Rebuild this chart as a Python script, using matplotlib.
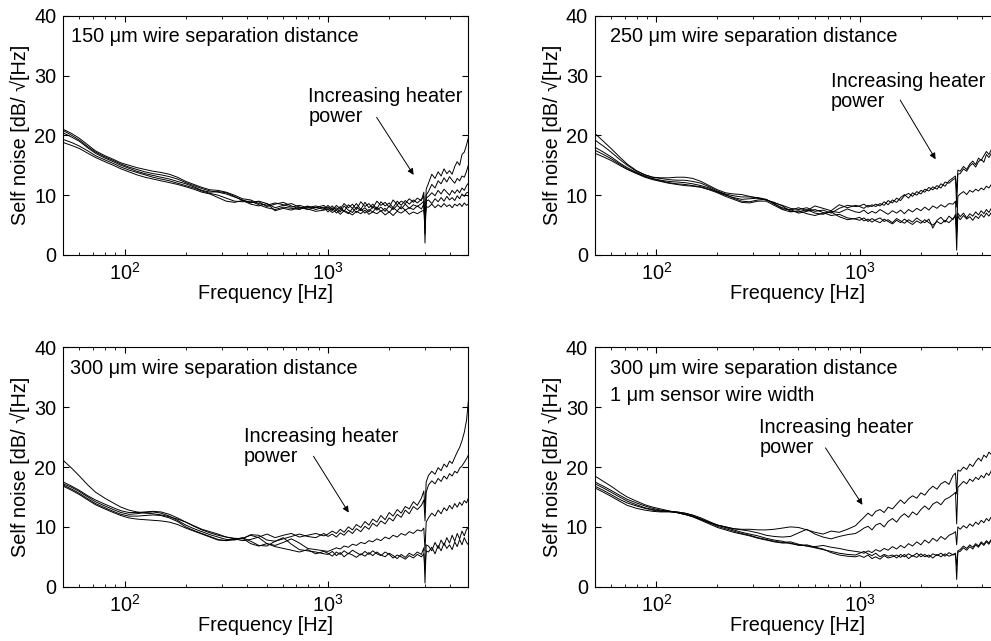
"""Self-noise spectra for four wire-separation configurations."""

import matplotlib
matplotlib.use("Agg")
import matplotlib.pyplot as plt


FREQ = [50, 55, 60, 66, 72, 80, 88, 96, 105, 115, 126, 138, 151, 166, 182, 200, 219, 240, 263, 288, 316, 347, 380, 417,
        457, 501, 550, 603, 661, 724, 794, 871, 955,
        1000, 1050, 1100, 1150, 1200, 1260, 1320, 1380, 1450, 1520, 1590, 1660, 1740, 1820, 1910, 2000, 2090, 2190, 2290, 2400, 2510, 2630, 2750, 2880,
        2960, 3000, 3040,
        3120, 3240, 3360, 3480, 3600, 3720, 3840, 3960, 4080, 4200, 4320, 4440, 4560, 4680, 4800, 4900]

# 150 um separation
noise_150 = [
    [21.0, 20.3, 19.5, 18.4, 17.4, 16.6, 16.0, 15.4, 15.0, 14.6, 14.3, 14.0, 13.8, 13.5, 13.0, 12.3, 11.8, 11.3, 10.9, 10.8, 10.5, 10.0, 9.4, 9.2,
     8.6, 8.3, 8.7, 8.4, 8.0, 8.3, 7.9, 8.2, 7.8,
     8.0, 7.4, 8.3, 7.7, 8.6, 7.9, 8.5, 7.6, 8.9, 8.1, 8.6, 7.8, 9.0, 8.3, 8.8, 8.0, 9.2, 8.4, 9.0, 8.6, 9.4, 8.8, 9.5, 9.1,
     10.5, 4.5, 11.0,
     12.0, 13.5, 12.8, 13.9, 13.2, 14.4, 13.6, 14.1, 13.5, 14.8, 15.6, 15.0, 16.8, 17.2, 18.4, 19.6],
    [20.8, 20.0, 19.2, 18.1, 17.2, 16.4, 15.8, 15.2, 14.7, 14.3, 13.9, 13.6, 13.4, 13.1, 12.7, 12.1, 11.6, 11.1, 10.7, 10.5, 10.2, 9.7, 9.2, 8.8,
     8.9, 8.1, 8.5, 8.8, 8.2, 7.7, 8.1, 7.9, 8.3,
     7.6, 8.2, 7.5, 8.1, 7.3, 8.4, 7.8, 8.6, 7.6, 8.8, 7.9, 8.5, 7.7, 8.9, 8.2, 8.7, 7.9, 9.0, 8.3, 9.1, 8.5, 9.2, 8.7, 9.3,
     9.8, 2.0, 10.0,
     10.6, 11.8, 11.2, 12.4, 11.9, 12.9, 12.2, 13.1, 12.5, 12.0, 12.8, 12.4, 13.2, 13.0, 14.0, 15.0],
    [20.4, 19.7, 19.0, 17.9, 17.0, 16.2, 15.6, 15.0, 14.5, 14.0, 13.6, 13.3, 13.0, 12.7, 12.3, 11.9, 11.4, 10.8, 10.5, 10.6, 10.4, 9.8, 9.1, 8.5,
     8.2, 8.6, 7.9, 8.3, 8.6, 8.0, 7.6, 8.0, 7.6,
     8.3, 7.6, 7.9, 7.2, 8.2, 7.5, 7.1, 8.0, 7.4, 7.9, 7.2, 8.1, 7.5, 8.0, 7.3, 8.2, 7.6, 8.3, 7.7, 8.5, 7.8, 8.4, 8.1, 8.6,
     9.0, 5.0, 9.5,
     9.8, 10.4, 9.9, 10.8, 10.2, 11.0, 10.5, 10.0, 10.8, 10.3, 10.9, 10.4, 11.2, 10.8, 11.6, 12.0],
    [19.3, 18.8, 18.2, 17.4, 16.6, 15.9, 15.3, 14.7, 14.2, 13.8, 13.4, 13.0, 12.7, 12.4, 12.0, 11.6, 11.2, 10.7, 10.3, 10.0, 9.5, 9.0, 8.9, 9.0,
     8.4, 7.9, 7.6, 8.0, 7.8, 7.6, 8.2, 7.6, 8.0,
     7.2, 7.9, 7.0, 7.6, 7.3, 6.9, 7.8, 7.1, 7.7, 7.0, 7.6, 7.2, 8.0, 7.3, 7.8, 7.1, 7.9, 7.4, 8.1, 7.5, 7.9, 7.6, 8.2, 7.7,
     8.5, 3.5, 9.0,
     9.2, 8.6, 9.4, 8.9, 9.6, 9.0, 9.8, 9.2, 9.6, 9.1, 9.9, 9.4, 10.2, 9.8, 10.4, 10.5],
    [18.8, 18.3, 17.8, 17.0, 16.3, 15.6, 15.0, 14.4, 13.9, 13.4, 13.0, 12.7, 12.4, 12.1, 11.8, 11.4, 11.0, 10.5, 10.2, 9.6, 9.0, 8.8, 9.1, 8.7,
     9.0, 8.6, 7.4, 7.8, 7.5, 8.0, 7.7, 7.3, 7.5,
     7.7, 7.1, 7.5, 6.8, 7.4, 7.1, 6.7, 7.3, 6.9, 7.5, 6.8, 7.2, 6.9, 7.4, 6.7, 7.2, 6.6, 7.3, 7.0, 7.5, 6.8, 7.2, 6.9, 7.3,
     7.5, 6.0, 8.0,
     8.0, 8.5, 7.9, 8.4, 8.0, 8.6, 8.1, 8.4, 7.9, 8.5, 8.2, 8.6, 8.1, 8.7, 8.3, 8.5],
]

# 250 um separation
noise_250 = [
    [20.3, 19.0, 17.8, 16.4, 15.2, 14.1, 13.4, 13.0, 12.9, 12.9, 13.0, 13.0, 12.8, 12.3, 11.6, 10.9, 10.4, 10.2, 10.1, 9.8, 9.5, 9.2, 8.7, 8.3,
     7.8, 7.6, 7.9, 7.3, 7.5, 7.0, 7.8, 8.3, 8.1,
     8.2, 8.5, 8.0, 8.4, 8.1, 8.6, 8.3, 9.1, 8.7, 9.5, 9.1, 9.9, 10.3, 9.8, 10.6, 10.2, 11.0, 10.7, 11.4, 11.0, 11.9, 11.5, 12.4, 12.9,
     13.2, 10.5, 14.2,
     14.0, 14.8, 14.3, 15.2, 15.7, 15.1, 16.2, 15.8, 16.6, 17.3, 16.8, 17.6, 17.1, 17.9, 17.4, 18.0],
    [19.2, 18.2, 17.2, 16.0, 15.0, 14.0, 13.4, 13.0, 12.8, 12.6, 12.5, 12.5, 12.3, 12.0, 11.4, 10.7, 10.2, 9.9, 9.7, 9.7, 9.6, 9.3, 8.5, 7.9,
     7.5, 7.9, 7.4, 8.2, 7.8, 7.4, 8.4, 7.9, 8.3,
     8.1, 7.8, 8.3, 8.1, 8.5, 8.2, 8.9, 8.4, 9.2, 8.8, 9.6, 10.1, 9.5, 10.4, 10.0, 10.8, 10.5, 11.3, 10.9, 11.6, 11.2, 12.2, 12.0, 12.6,
     12.8, 8.0, 13.5,
     13.6, 14.4, 14.0, 14.9, 15.3, 14.7, 15.6, 16.0, 15.5, 16.8, 16.3, 17.0, 16.6, 17.4, 17.0, 17.5],
    [18.0, 17.2, 16.4, 15.4, 14.6, 13.8, 13.2, 12.8, 12.5, 12.3, 12.2, 12.1, 11.9, 11.6, 11.2, 10.5, 10.0, 9.6, 9.3, 9.4, 9.5, 9.2, 8.8, 8.2,
     7.3, 7.2, 7.6, 7.0, 6.8, 7.3, 7.1, 7.7, 7.2,
     7.1, 7.5, 6.9, 7.3, 7.0, 7.6, 7.2, 6.8, 7.4, 7.0, 7.5, 6.9, 7.6, 7.2, 7.8, 7.4, 8.0, 7.5, 8.2, 7.8, 8.4, 8.0, 8.6, 8.5,
     9.0, 3.5, 9.8,
     10.2, 10.6, 10.1, 10.8, 10.5, 11.0, 10.7, 11.2, 10.9, 11.5, 11.2, 11.8, 11.4, 12.0, 11.7, 12.1],
    [17.5, 16.8, 16.1, 15.2, 14.4, 13.7, 13.1, 12.7, 12.4, 12.1, 11.9, 11.8, 11.6, 11.4, 11.0, 10.6, 10.1, 9.5, 9.0, 8.9, 9.2, 9.3, 8.6, 7.7,
     7.6, 7.0, 7.3, 7.6, 7.1, 6.6, 6.8, 6.2, 6.0,
     5.8, 6.2, 5.6, 6.1, 5.7, 5.4, 6.0, 5.6, 5.2, 5.8, 5.4, 6.0, 5.5, 5.1, 5.7, 5.3, 5.9, 5.4, 5.0, 5.6, 5.2, 5.8, 5.4, 6.1,
     6.5, 0.8, 7.0,
     6.4, 7.0, 6.2, 6.9, 6.5, 7.2, 6.7, 7.4, 6.9, 7.6, 7.1, 7.8, 7.4, 8.0, 7.6, 8.1],
    [17.0, 16.4, 15.8, 15.0, 14.3, 13.6, 13.0, 12.6, 12.3, 12.0, 11.8, 11.6, 11.5, 11.3, 10.9, 10.4, 9.8, 9.3, 8.8, 8.7, 9.0, 9.0, 8.3, 7.6,
     7.2, 7.4, 6.9, 6.6, 7.0, 7.2, 6.4, 5.9, 6.1,
     6.3, 5.7, 6.0, 5.5, 5.9, 6.2, 5.6, 5.9, 5.4, 6.1, 5.7, 5.3, 5.9, 5.5, 6.2, 5.7, 5.4, 6.0, 4.5, 5.8, 6.3, 5.5, 6.5, 5.9,
     6.8, 4.0, 6.5,
     5.9, 6.6, 6.0, 6.4, 5.8, 6.5, 6.1, 6.8, 6.3, 7.0, 6.5, 7.1, 6.6, 7.3, 6.9, 7.2],
]

# 300 um separation
noise_300 = [
    [21.1, 19.8, 18.5, 17.0, 15.8, 14.8, 14.0, 13.3, 12.8, 12.5, 12.3, 12.2, 12.0, 11.7, 11.3, 10.8, 10.2, 9.6, 9.2, 8.8, 8.3, 8.0, 7.7, 7.9,
     8.3, 8.8, 8.2, 8.6, 8.9, 8.3, 8.6, 8.9, 8.5,
     8.8, 9.3, 8.9, 9.6, 9.1, 10.0, 9.5, 10.4, 9.9, 10.9, 10.3, 11.3, 10.8, 11.9, 11.2, 12.4, 11.8, 12.9, 12.3, 13.4, 13.0, 14.2, 13.6, 14.8,
     16.0, 13.0, 17.5,
     18.6, 19.3, 18.8, 19.9, 19.4, 20.5, 20.0, 21.0, 20.6, 21.6, 22.5, 23.3, 24.4, 25.8, 27.8, 31.0],
    [17.5, 16.8, 16.1, 15.2, 14.5, 13.8, 13.2, 12.7, 12.4, 12.4, 12.5, 12.6, 12.5, 12.1, 11.5, 10.8, 10.1, 9.5, 9.0, 8.6, 8.3, 8.1, 8.0, 8.7,
     8.6, 7.8, 7.6, 8.0, 8.4, 8.8, 8.4, 8.2, 8.9,
     8.4, 8.8, 8.3, 9.0, 8.6, 9.4, 8.9, 9.7, 9.2, 10.1, 9.6, 10.6, 10.1, 11.0, 10.5, 11.5, 11.0, 12.1, 11.6, 12.8, 12.2, 13.4, 12.9, 13.6,
     14.5, 11.0, 15.8,
     17.0, 17.7, 17.2, 18.1, 17.6, 18.5, 18.0, 18.9, 18.5, 19.3, 19.0, 19.8, 20.2, 20.8, 21.4, 22.0],
    [17.2, 16.6, 15.9, 15.0, 14.2, 13.5, 12.9, 12.4, 12.1, 12.2, 12.4, 12.5, 12.3, 11.8, 11.1, 10.3, 9.7, 9.2, 8.7, 8.3, 7.9, 7.8, 8.1, 8.6,
     8.2, 7.2, 6.9, 7.4, 8.0, 7.3, 6.4, 6.2, 6.0,
     5.9, 6.2, 6.5, 6.3, 6.8, 6.6, 7.1, 6.9, 7.4, 7.2, 7.7, 7.5, 8.0, 7.7, 8.3, 8.0, 8.6, 8.3, 8.9, 8.6, 9.2, 8.9, 9.5, 9.3,
     9.8, 6.0, 10.8,
     11.5, 12.3, 11.8, 12.8, 12.2, 13.2, 12.7, 13.6, 13.0, 13.9, 13.3, 14.1, 13.6, 14.4, 14.0, 14.8],
    [17.0, 16.3, 15.6, 14.7, 13.9, 13.2, 12.6, 12.1, 11.8, 11.8, 11.9, 12.0, 11.9, 11.5, 10.9, 10.0, 9.4, 8.9, 8.4, 7.9, 7.7, 7.9, 8.2, 7.6,
     6.9, 6.8, 7.6, 8.2, 7.1, 6.2, 6.0, 5.8, 5.5,
     5.4, 5.9, 5.2, 5.7, 5.0, 5.6, 5.3, 4.9, 5.5, 5.1, 5.7, 5.2, 5.8, 5.3, 5.0, 5.6, 5.2, 4.7, 5.4, 4.9, 5.6, 5.2, 5.8, 5.4,
     6.5, 0.6, 7.0,
     6.8, 6.0, 7.4, 6.4, 7.8, 6.9, 8.2, 7.3, 8.6, 7.6, 8.9, 8.0, 9.3, 8.5, 9.6, 9.8],
    [16.8, 16.1, 15.4, 14.5, 13.7, 13.0, 12.4, 11.9, 11.5, 11.3, 11.2, 11.1, 11.0, 10.8, 10.4, 9.8, 9.3, 8.8, 8.3, 7.8, 7.7, 8.0, 8.1, 7.2,
     6.8, 7.2, 6.7, 6.4, 6.1, 5.8, 6.2, 5.5, 5.9,
     5.6, 5.1, 5.8, 5.4, 6.0, 5.5, 6.1, 5.7, 5.3, 5.9, 5.4, 6.0, 5.5, 5.2, 5.8, 5.4, 4.8, 5.3, 5.0, 4.6, 5.2, 4.8, 5.4, 5.0,
     5.5, 3.0, 6.0,
     5.8, 6.6, 5.5, 6.9, 6.0, 7.3, 6.4, 7.0, 6.2, 7.5, 6.7, 7.9, 7.0, 8.2, 7.4, 7.0],
]

# 300 um separation, 1 um sensor wire
noise_300_thin = [
    [18.5, 17.6, 16.8, 15.8, 15.0, 14.3, 13.7, 13.3, 13.0, 12.7, 12.4, 12.1, 11.8, 11.3, 10.8, 10.3, 10.0, 9.7, 9.6, 9.6, 9.5, 9.5, 9.6, 9.8,
     10.0, 9.9, 9.5, 9.1, 8.8, 9.3, 9.1, 9.6, 10.2,
     10.9, 11.6, 12.3, 11.8, 12.6, 12.9, 12.4, 13.3, 13.0, 13.8, 14.5, 13.9, 14.7, 15.2, 14.8, 15.7, 15.3, 16.2, 16.8, 16.3, 17.2, 17.6, 17.1, 18.6,
     19.0, 15.5, 19.5,
     19.3, 20.0, 19.6, 20.5, 20.1, 20.9, 21.5, 21.0, 22.0, 21.6, 22.5, 22.1, 23.0, 23.5, 23.1, 23.8],
    [17.5, 16.8, 16.1, 15.3, 14.6, 14.0, 13.5, 13.1, 12.8, 12.6, 12.4, 12.1, 11.7, 11.2, 10.7, 10.3, 10.0, 9.7, 9.5, 9.3, 9.0, 8.6, 8.4, 8.3,
     8.4, 9.0, 9.6, 8.8, 8.3, 8.0, 8.4, 8.7, 8.9,
     9.3, 9.8, 10.1, 9.5, 10.3, 10.6, 10.0, 10.9, 11.4, 10.8, 11.7, 12.2, 11.6, 12.5, 12.0, 12.9, 13.5, 12.9, 13.8, 14.2, 13.7, 14.6, 14.9, 15.4,
     15.8, 10.5, 16.6,
     17.0, 17.6, 17.2, 18.0, 17.6, 18.3, 17.9, 18.6, 18.2, 19.0, 18.6, 19.4, 19.0, 19.8, 19.5, 20.0],
    [17.2, 16.5, 15.8, 15.0, 14.3, 13.7, 13.2, 12.9, 12.7, 12.6, 12.5, 12.3, 12.0, 11.5, 10.9, 10.3, 9.9, 9.5, 9.1, 8.8, 8.5, 8.1, 7.8, 7.6,
     7.2, 7.0, 6.8, 6.7, 6.9, 6.6, 6.4, 6.1, 5.9,
     5.8, 5.6, 6.0, 5.7, 6.2, 5.9, 6.4, 6.1, 6.7, 6.3, 6.9, 6.5, 7.2, 6.8, 7.5, 7.0, 7.8, 7.3, 8.1, 7.6, 8.4, 7.9, 8.6, 8.9,
     9.2, 7.0, 10.0,
     9.6, 10.2, 9.8, 10.5, 10.1, 10.8, 10.4, 11.1, 10.7, 11.4, 11.0, 11.7, 11.3, 12.0, 11.7, 12.3],
    [16.8, 16.1, 15.4, 14.6, 14.0, 13.5, 13.1, 12.8, 12.6, 12.6, 12.5, 12.3, 11.9, 11.3, 10.7, 10.1, 9.7, 9.3, 8.9, 8.6, 8.2, 7.9, 7.6, 7.4,
     7.5, 7.1, 6.8, 6.5, 6.2, 5.9, 5.6, 5.4, 5.3,
     5.6, 5.9, 5.5, 5.2, 5.6, 5.0, 5.4, 5.1, 5.3, 4.8, 5.4, 5.0, 5.5, 5.1, 5.6, 5.0, 5.4, 4.9, 5.5, 5.2, 5.6, 5.1, 5.7, 5.3,
     5.4, 1.2, 6.0,
     6.2, 6.8, 6.4, 7.0, 6.6, 7.2, 6.8, 7.5, 7.1, 7.7, 7.3, 7.9, 7.6, 8.2, 7.8, 8.3],
    [16.5, 15.8, 15.1, 14.3, 13.6, 13.1, 12.8, 12.6, 12.5, 12.5, 12.4, 12.1, 11.7, 11.1, 10.5, 9.9, 9.5, 9.1, 8.8, 8.5, 8.1, 7.8, 7.5, 7.3,
     7.3, 6.9, 7.0, 6.6, 6.3, 5.7, 5.3, 5.1, 5.0,
     5.2, 4.9, 5.3, 4.7, 5.0, 4.6, 5.2, 4.8, 5.0, 5.3, 4.9, 5.4, 4.7, 5.2, 4.9, 5.5, 5.0, 5.3, 4.8, 5.4, 5.0, 5.5, 5.1, 5.4,
     5.6, 3.5, 5.8,
     5.9, 6.5, 6.1, 6.7, 6.3, 7.0, 6.6, 7.3, 6.9, 7.5, 7.1, 7.8, 7.4, 8.0, 7.7, 8.1],
]

PANEL_TEXT = ["150 μm wire separation distance", "250 μm wire separation distance",
              "300 μm wire separation distance", "300 μm wire separation distance\n1 μm sensor wire width"]
# text anchor (freq, dB) and arrow tail / head (freq, dB)
LABEL_POS = [(800, 24.8), (722, 27.3), (385, 23.5), (321, 25.0)]
ARROW_TAIL = [(1706, 23.4), (1557, 26.3), (835, 22.2), (668, 23.6)]
ARROW_HEAD = [(2683, 13.0), (2402, 15.6), (1286, 12.0), (1050, 13.3)]


def main() -> None:
    plt.rcParams["font.family"] = ["Liberation Sans", "DejaVu Sans"]
    plt.rcParams["mathtext.fontset"] = "custom"
    plt.rcParams["mathtext.rm"] = "Liberation Sans"
    plt.rcParams["font.size"] = 14.3

    fig = plt.figure(figsize=(9.91, 6.41), dpi=100)
    w, h = 0.4087, 0.3733
    boxes = [(0.0639, 0.6022), (0.6004, 0.6022), (0.0639, 0.0847), (0.6004, 0.0847)]
    text_x = [0.018, 0.037, 0.017, 0.037]
    data = [noise_150, noise_250, noise_300, noise_300_thin]

    for i, (x0, y0) in enumerate(boxes):
        ax = fig.add_axes([x0, y0, w, h])
        for line in data[i]:
            assert len(line) == len(FREQ)
            ax.plot(FREQ, line, color="black", lw=0.7)
        ax.set_xscale("log")
        ax.set_xlim(50, 4900)
        ax.set_ylim(0, 40)
        ax.set_yticks([0, 10, 20, 30, 40])
        ax.tick_params(which="both", direction="in", top=True, right=True)
        ax.tick_params(which="major", length=4.5, pad=5)
        ax.tick_params(which="minor", length=2.5)
        ax.set_xlabel("Frequency [Hz]", labelpad=0)
        ax.set_ylabel("Self noise [dB/ √[Hz]", labelpad=3)
        ax.text(text_x[i], 0.952, PANEL_TEXT[i], transform=ax.transAxes, ha="left", va="top", linespacing=1.55)
        ax.text(*LABEL_POS[i], "Increasing heater\npower", ha="left", va="center", linespacing=1.05)
        ax.annotate("", xy=ARROW_HEAD[i], xytext=ARROW_TAIL[i],
                    arrowprops=dict(arrowstyle="-|>", color="black", lw=0.7, mutation_scale=9))

    fig.savefig("out.png", dpi=100)
    plt.close(fig)


if __name__ == "__main__":
    main()
